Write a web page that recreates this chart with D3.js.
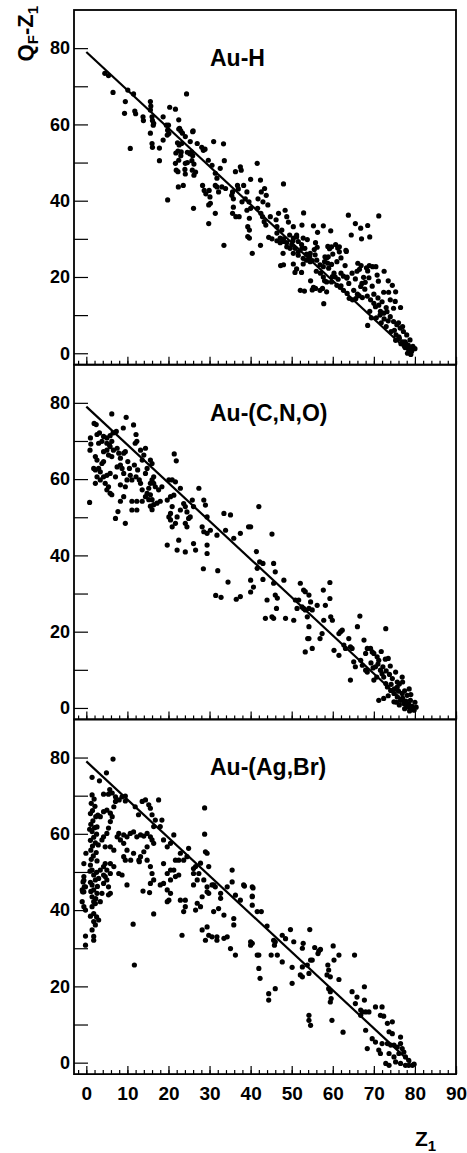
<!DOCTYPE html>
<html>
<head>
<meta charset="utf-8">
<script src="https://cdn.jsdelivr.net/npm/d3@7"></script>
<style>
	body { margin: 0; background: #fff; }
	text { font-family: "Liberation Sans", Arial, Helvetica, sans-serif; font-weight: bold; fill: #000; }
	.axis path.domain { display: none; }
	.axis line { stroke: #000; stroke-width: 1.2; }
	.frame { fill: none; stroke: #000; stroke-width: 1.8; }
	.fit-line { fill: none; stroke: #000; stroke-width: 2.2; }
	.dot { fill: #000; }
</style>
</head>
<body>
<div id="graphic"></div>
<script>
// Globals
var PANEL_TITLES = ['Au-H', 'Au-(C,N,O)', 'Au-(Ag,Br)'];

var Y_TICKS = [0, 10, 20, 30, 40, 50, 60, 70, 80];
var Y_LABELS = [0, 20, 40, 60, 80];
var X_TICKS = [0, 10, 20, 30, 40, 50, 60, 70, 80, 90];
var X_MINOR = [-2, 0, 2, 4, 6, 8, 10, 12, 14, 16, 18, 20, 22, 24, 26, 28, 30, 32, 34, 36, 38, 40, 42, 44,
	46, 48, 50, 52, 54, 56, 58, 60, 62, 64, 66, 68, 70, 72, 74, 76, 78, 80, 82, 84, 86, 88, 90];

// Q_F - Z_1 = 79 - Z_1 reference line
var FIT_LINE = [[0, 79], [79, 0]];

// [Z1, QF-Z1]
var AU_H = [
	[4.5,73.4],[5.4,72.8],[6.5,68.4],[10.1,69],[11.5,68],[9.5,66],[9.3,62.9],[11.8,63.5],[12,62.8],[10.7,53.7],[13.8,62],[13.9,61],
	[15.6,66],[15.7,64.8],[15.6,63.8],[16,62],[16.1,61],[16.3,59.8],[15.6,57.7],[16,55],[16.1,54],[17.8,53.8],[17.8,50.5],
	[18.7,62],[20,59.8],[19.8,58.5],[20.3,64.5],[21.7,64],[24.4,68],[18.7,55.9],[22.5,61.2],[22.7,59],[23,58.3],[23.4,57.7],
	[22.2,55.2],[22.6,54.6],[23.2,55],[24.1,56.8],[26,58.3],[23.1,52.8],[22.5,50.6],[24.1,49.8],[21.9,48],[24.1,47],
	[19.5,59.8],[20.1,57.6],[16.4,60.3],[19.7,57.2],[22.5,58.8],[22.3,53],[21.8,52.5],[23,51.8],[25.3,55.5],[25.9,58.1],
	[24.6,52.7],[25.2,52.3],[25.6,52.8],[25.9,51.8],[25.7,50.5],[26.2,49.6],[25.8,48],[26.6,47.5],[26.2,46.7],
	[27,55],[28.1,54],[28.5,53.2],[28.9,53.5],[21.7,49.8],[22.3,47.6],[24,48.2],[24.6,50],[22.4,43.6],[23.6,44],[19.8,40.2],[26.1,38],
	[28.3,44],[28.7,42.7],[29.1,41.8],[29.9,42.7],[30.1,41],[30.2,39.3],[29.8,38.9],[31,55.5],[33.4,54.9],[29.7,50.6],[30.6,49.3],
	[31.4,47.2],[31.8,45.9],[32.6,48.5],[33.6,50.5],[29.8,34],[31.4,36.7],[31.4,44],[31.8,43.6],[32.2,42.3],[33,43.6],[33.9,43.2],
	[36.3,47.6],[37.5,48.9],[37.7,48],[35.6,42.3],[35.4,41.4],[35.8,40.5],[36.8,44],[37,43.1],[38.3,44],[37.9,39.7],[39.1,42.3],
	[40,45.6],[38.7,40.5],[39.6,39.7],[40,38],[39.1,37.5],[35.8,38.3],[35.6,36.7],[36.4,35.8],[37.2,35.8],[41.6,49.8],[39.7,35.4],
	[39.3,33.2],[39.7,32.3],[39.3,30.6],[39.7,30.2],[33.5,28.3],[40.4,26.2],[42.4,28.3],[42.4,45.4],[43.4,43.2],[42.6,42.3],
	[43.8,41.4],[41.8,40.5],[43,39.7],[44.2,38.9],[41.7,38],[42.5,36.7],[42.9,35.8],[43.3,34.5],[43.7,33.6],[44.8,35.8],[46.2,35],
	[46.8,36.7],[46.4,33.2],[47.6,32.3],[48.4,37.5],[48.8,35.8],[48,44.4],[44.4,30.4],[45.2,30],[46.4,29.5],[47.2,29],[46.4,31.5],
	[47.2,30.2],[48,29.3],[48.8,27.9],[49.6,27.5],[50,28.4],[50.4,30.2],[51.2,31],[51.6,29.3],[52.8,30.2],[50.8,27.5],[51.6,26.6],
	[52.5,27.5],[51.6,25.7],[52.8,24.9],[53.6,24.4],[54.5,24],[49.2,34.4],[50.4,33.2],[52.5,33.6],[52.9,36.8],[47.9,26.2],[50.4,26.2],
	[48,23.2],[50.4,23.4],[51.2,22.1],[52.4,21.2],[50.8,21.2],[52.8,23.4],[53.8,29.8],[55.3,33.4],[56.3,31.7],[57.7,33.4],[59.5,32.1],
	[54.5,26.2],[55.7,25.8],[56.1,24.4],[56.9,23.2],[57.7,22.7],[58.1,25.3],[58.9,25.3],[59.7,27.9],[61.6,27.9],[61.6,26.6],[63.2,27],
	[57.7,20],[58.5,18.7],[59.7,18.7],[60.6,20],[61,17.8],[61.8,17.3],[62.6,20.2],[63.4,19.7],[55.3,17.3],[56.9,16.5],[58.5,16.1],[53.1,16.3],
	[48,30],[48.8,29],[49.5,31],[50.3,29.5],[51.2,30.5],[52.4,28.5],[53.2,27.5],[53.6,26],[54.4,25.3],[55,24.3],[47.3,23],[52.1,16.5],
	[54.6,19],[55,16.6],[55.8,17],[57.5,17],[57.8,13],[55.8,29],[56.2,27.8],[55.5,27.2],[58.8,28],[59.2,27.4],[60.7,28.5],[61.2,27.6],
	[63.3,26.7],[58.5,25],[58.8,23.6],[58,24],[59.7,23.3],[59,22.3],[60.3,21],[59.9,20.1],[61.3,19.4],[62,17.7],[62.6,16.5],
	[63.5,15.7],[64,14.4],[64.8,14],[65.6,14.3],[66.4,15.1],[66.1,23.6],[66.9,23],[66.5,22],[68.2,22.4],[68.5,21.6],[68.9,23],
	[69.7,22.7],[70.5,22.7],[64.7,21],[65.9,21.5],[65.5,19.5],[67.5,19.9],[67.9,18.6],[67.1,18.3],[68.8,19.8],[69.6,17.6],[71.1,18.9],
	[63.9,18.3],[65.1,16.5],[66,15.5],[67.2,14.6],[68.4,15],[69.2,14],[70,13.1],[70.4,12.2],[71.2,12.6],[71.6,11],[72.4,10.5],
	[73.2,10.9],[74,9.6],[74.8,8.3],[75.6,7.5],[76.4,6.6],[77.2,5.7],[78,4.8],[77.6,3],[78.4,2.1],[78.8,1.2],[77.6,1.5],[78.8,3.5],
	[69,11],[69.4,9.3],[70.6,9.3],[71.8,8],[73,7],[74.2,5.7],[75.4,4.8],[76.2,3.9],[77,3],[77.8,2.5],[72.4,16],[73.6,16],[74,14],
	[75.2,13.6],[74.8,11.8],[75.3,16.1],[70.8,20.5],[68.5,7.3],[75.3,3.4],[76.1,4.3],[76.6,2.5],[77.4,2],[77.8,1.6],[78.6,0.8],
	[78.2,0],[79.2,0.5],[79.5,1.8],[80,1.2],[79,-0.3],[73,12],[71,14.5],[72,13.5],[76,8],[77,7],[75,6],[73.5,8.5],[72.5,9],[71.5,10],
	[70,15.5],[67.8,16.8],[66.8,17.5],[62,25],[63,23],[61,24],[60,26],[57,21],[56,21.5],[58,19],[62,21],[63.5,20],
	[63.8,36.2],[65.5,34],[66.8,32.8],[68.5,33.5],[71.2,36],[69,30.5],[64.5,31],[67,30],[72.5,21.5],[73.5,19],[74.5,17.8],[76.5,12]
];

var AU_CNO = [
	[6.2,77.1],[9.7,76.2],[11.5,74.2],[1.9,74.6],[2.4,74.3],
	[1,70.8],[2.6,71.7],[3.2,72.1],[4.2,71.2],[5,70.8],[5.8,71.4],[6.5,72.1],[7.3,72.5],[9,73.4],[12.1,71.7],
	[1.1,69.2],[3,69.4],[3.8,69.9],[5,69.4],[5.6,69],[11.9,69.4],[12.3,69.9],[6.2,69.9],
	[0.9,67.6],[4.2,67.2],[5,67.6],[5.8,68.5],[6.6,67.6],[7.5,68.1],[5.4,66.3],[6.2,65.9],[7.9,66.8],[9.1,66.8],[9.5,67.2],
	[13.2,67.6],[14.4,68.1],[14,66.3],[2.2,65.9],
	[2.6,65],[1.8,62.8],[2.2,62.4],[3,62.8],[3.8,64.1],[4.2,64.6],[8.3,65.5],[8.3,63.7],[8.7,62.8],[7.5,63.2],[10.1,64.6],
	[10.5,62.8],[11.7,63.7],[12.5,62.4],[13.6,65],[15.6,65],[16,64.1],[14.8,62.8],
	[2.6,60.6],[3.4,61.9],[4.2,60.6],[5,61],[9.1,61.5],[10.7,61],[11.1,59.8],[9.9,59.8],[12.1,60.6],[12.9,59.8],[14.4,61.5],
	[16,59.8],[16.4,60.6],[18.4,58],[16.4,58.9],[5.8,61.5],[7.1,60.6],
	[2.2,58.9],[3.4,59.8],[4.6,58.9],[5.4,58],[5,57.2],[5.8,56.3],[6.2,55.9],[8.3,58.5],[9.5,58],[13.2,58.9],[13.6,57.2],
	[14.4,55.4],[14.8,56.3],[15.2,57.6],[15.6,58.9],[16.8,58],[17.6,57.2],
	[15.6,55.9],[16,54.6],[16.4,53.3],[15.2,54.6],[15.6,52.9],[16,52],[17.2,53.7],[18,54.2],[8.3,54.2],[9.1,55.4],[11.1,54.2],
	[12.3,54.2],[13.6,54.2],[0.8,53.9],[7.1,49.7],[7.7,51.5],[9.5,48.4],[11.1,51.9],[12.3,51.9],
	[21.4,66.6],[21.9,64.8],[20.1,59.8],[20.9,59.8],[21.7,59.3],[22.9,57.6],[19.7,54.5],[20.5,55.4],[21.3,55.8],[20.9,52.8],
	[20.5,51],[20.1,50.1],[20.5,49.3],[20.9,47.5],[21.7,48.4],[22.1,50.1],[22.9,51.9],[23.7,53.6],[24.1,52.8],[24.5,51.4],
	[24.9,49.7],[24.1,48.4],[24.5,47.5],[25.3,50.1],[25.8,54.5],[26.1,52.8],[27.4,57.6],[28.6,54.5],[29,53.2],[29.4,50.1],
	[28.2,47.5],[28.6,46.2],[29.4,45.8],[30.2,46.6],[31.8,45.3],[33.5,51],[35.1,50.6],[33.9,46.6],[35.9,44.5],[37.5,45.8],
	[39.5,47.5],[42,52.8],[19.7,42.7],[22.1,41.4],[22.5,44],[24.1,40.9],[26.1,43.1],[26.6,41.4],[29.4,42.7],[29.4,40.5],
	[31.5,29.5],[32.8,29],[36.5,28.5],[37.5,29.2],[28.5,36.5],[32,36],[34.5,33],
	[40,47.5],[45.2,45.6],[41.4,41],[42.2,38.3],[43,37.9],[41.6,36.6],[40,33.5],[40.7,31.7],[40,30.4],[43,33.7],[45.6,37.9],
	[46,35.7],[45.6,32.7],[46,29.6],[46.5,28.8],[46.3,26.1],[44,28.3],[43.6,23.5],[45.2,23.9],[45.6,23.5],[48.1,33.5],[48.5,23.5],[50.5,23],
	[52.1,32.7],[52.9,30.9],[53.3,30.5],[54.2,29.6],[51.7,28.3],[50.9,28.3],[51.3,26.1],[52.5,26.5],[52.9,26.1],[53.3,25.7],
	[54.2,26.1],[54.6,27.8],[55,25.7],[56.2,26.9],[53.8,23.9],[54.2,21.3],
	[59.3,32.9],[57.7,30.9],[58.2,26.9],[59.3,28.7],[59.5,23.9],[57.8,23],[59.9,23],
	[54.2,18.2],[55,15.6],[53.3,14.7],[53.9,18.2],[56.9,18.2],[57.4,19.5],
	[60.3,15.1],[61.5,13.8],[61.5,19.5],[62.3,20.4],[61.9,20],[62.7,16.5],[63.1,15.6],[64.3,16],[63.9,18.2],[64.7,15.6],
	[65.1,12.1],[65.5,10.8],[64.3,7.3],[66.8,12.5],[67.2,11.2],[68,9.9],[68.4,9.4],[69.2,15.6],[69.6,14.7],[70,14.3],[70.8,13.4],
	[71.2,12.5],[70.4,10.8],[70.7,8.1],[70,7.3],[71.6,9.9],[72,9],[72.4,8.1],[72.9,6.4],[73.3,5.5],[74.1,4.6],[74.9,3.8],
	[75.7,2.9],[76.5,2],[77.3,1.2],[78.1,0.3],[78.9,-0.2],[79.8,-0.6],[78.9,2],[78.1,3.3],[76.9,3.8],[75.7,5.5],[74.5,7.7],
	[76.9,8.1],[75.3,9.4],[75.7,6.8],[74.9,1.6],[71.2,2],[72.4,2.5],[72.9,20.8],[66,21.3],[66.6,24.1],[67.6,17.8],[68.4,15.6],[68,14.3],
	[71,11.5],[72.2,10.8],[73,9.7],[73.8,8.8],[74.2,6.2],[75,5],[76,4.4],[77,2.6],[77.8,1.8],[78.5,1],[79.3,0.4],[79.5,-0.3],
	[77.5,-0.2],[76.2,0.8],[75.5,1.5],[73.5,3.2],[74,11],[72.8,12.8],[71.8,14.8],[73.5,13],[69.3,11.8],[69.8,10.5],[76.2,6.3],
	[77.5,4.5],[78.6,5],[77,6.8],[79,3.5],[80,1.5],[80.3,0.2],[78.7,-0.8]
];

var AU_AGBR = [
	[6.5,79.6],[4.9,76],[1.4,74.8],[3.2,73.9],
	[1.4,70.2],[1.9,69.1],[1.2,68],[2.1,67.2],[1.5,66.1],[1,65.3],[2.3,64.5],[1.6,63.4],[1.1,62.5],[2,61.6],[1.4,60.6],
	[2.5,59.9],[1.8,59.1],[1,58.3],[2.2,57.6],[1.5,56.8],[1.1,55.7],[2.4,55.1],[1.7,54.2],[1.2,53.3],[2.6,52.9],
	[1,51.8],[1.4,50.5],[1.8,49.2],[2.2,47.9],[1.4,46.6],[1.8,45.3],[2.6,44.4],[1.4,43.5],[1.8,42.2],[2.2,41.7],[1.4,40.9],
	[1.8,39.1],[1.8,37],[2.2,36.1],[1.4,34.8],[1.8,33.1],[1.8,32.1],
	[0.9,50.2],[2.5,49.9],[1,47.3],[2.7,46.2],[1.1,44.9],[2.3,43],[1,38.4],[2.5,38.2],[2.6,61.8],[2.8,64.9],[0.8,61.2],[2.9,57.1],
	[-0.1,54.9],[-0.6,47.8],[-0.5,46.1],[-0.9,44.8],[-0.6,52.2],[-0.6,48.8],[-0.8,47.4],[-0.2,46.1],[-1,45.3],[-0.6,44.8],
	[-1,42.2],[-0.6,40.9],[-0.2,40],[-0.2,33.2],[-0.2,30.8],
	[3.4,64.5],[4.2,65.8],[5,66.2],[5.85,65.4],[6.3,64.5],[6.7,67.1],[7.1,68.5],[5.85,63.2],[5.4,61.5],[5,60.1],[4.2,59.2],
	[3.8,58.4],[4.6,56.6],[5.85,56.6],[6.7,55.7],[7.5,59.2],[7.9,60.1],[8.3,58.4],[9.1,59.7],[9.9,59.2],[10.7,60.1],[11.5,60.5],
	[12.3,59.2],[13.2,59.7],[14,59.4],[14.8,60.1],[15.6,59.2],[16,58.4],[16.4,57.5],[14.8,56.6],[14,55.3],[13.2,54],[12.8,53.1],
	[11.5,54.9],[9.9,55.7],[9.1,57.5],[9.1,54],[9.5,53.1],
	[11.9,67.1],[12.7,65],[13.6,68.5],[14.4,68.9],[15.2,67.6],[15.6,66.7],[16,65],[16.8,63.6],[17.6,68.9],[18,61.9],[16.4,61.9],
	[4.2,70.4],[5.7,71.6],[5.4,70.4],[6.3,70.7],[7.1,69.7],[8,68.9],[8.7,69.7],[9.5,69.9],[9.5,68.6],
	[3,37.4],[3.4,42.2],[3.8,44.4],[4.2,47],[4.6,48.8],[3,48.3],
	[3.4,50.5],[4.2,51.4],[5,50.5],[5.85,49.6],[5,47.9],[5.4,46.1],[5.85,44.4],[5.4,44],[4.2,49.2],[4.6,52.2],[5.85,52.2],
	[6.7,51.4],[7.9,49.6],[8.7,49.2],[9.9,46.6],
	[11.4,36.3],[11.7,25.6],[13.8,45],[15.4,44.6],[16.4,39],
	[10.8,53.1],[12.9,52.7],[14.8,53.1],[15.6,51.4],[16,49.6],[16.4,47.9],[15.6,47],
	[18.8,52.2],[19.7,49.6],[20.5,50.5],[21.7,48.8],[20.5,47.9],[19.7,45.3],[20.5,44.4],[20.1,42.6],[19.7,42.2],[18.8,47],
	[18,46.6],[21.3,50.5],[22.5,49.2],
	[18.4,63.6],[18.8,58.4],[19.7,56.6],[20.5,57.5],[21.3,59.7],[21.7,53.1],[22.5,53.1],[22.9,54.9],[23.7,53.1],[24.5,54],
	[24.9,56.2],[26.1,50.9],[27.4,49.6],[27.8,52.3],[28.8,59.9],[29,55.3],[29.4,54.9],[29.8,51.4],[28.6,47.9],[29.4,46.1],
	[29.8,44.4],[31,46.6],[32.7,44.4],[34.3,46.1],[35.5,50.5],[35.5,47.4],[38.3,46.6],[40.4,46.1],[40.4,43.5],[28.8,66.8],
	[22.9,42.6],[24.1,42.6],[24.1,40.9],[23.7,39.6],[23.3,33.4],[26.6,40],[27,41.8],[27.8,40.9],[28.2,43.5],[29.4,44.8],
	[30.6,46.6],[31.4,46.1],[31,39.6],[32.2,40.4],[32.7,43.1],[33.5,38.7],[36.3,43.9],[37.5,42.6],[40.4,41.3],[41.6,39.6],
	[26.1,49.6],[26.6,51.4],[27,47.9],[26.1,46.6],
	[28.2,34.8],[29.4,35.6],[29.8,33.4],[29,32.1],[30.6,33],[31.8,33],[31.8,32.1],[33.5,32.6],[34.3,33],[35.1,29.9],[36.3,28.2],
	[35.9,37.8],[35.9,36.1],[40,31.7],[40.4,31.3],[41.6,28.2],[42,24.7],[42.3,22.1],
	[38.5,46.3],[40.6,45.8],[40.4,43.7],[42.6,39.6],[44,35.8],[40,30.8],[42,28.2],[45,28.2],[46.5,28.2],[45.6,32.1],[46,31.7],
	[45.8,30.8],[47.7,33.4],[48.5,32.5],[49.7,34.9],[50.5,31.7],[47.7,26.4],[46,19.4],[44.4,18.1],[44.4,16.4],[50.1,25],
	[50.1,20.8],[52.1,23],[52.6,22.5],[52.6,30],[52.8,31.3],[54.4,34.9],[52.6,25.1],[53.8,25.6],[54.6,26.9],[55,26.9],[54.2,23.4],
	[55.6,30.2],[56.6,29.3],[57,29.7],[56.4,28.6],[54.2,12.4],[54.2,11.1],[54.6,9.8],[58.8,25.6],[59,24.3],[58.6,23],[59.4,22.5],
	[60.1,30.6],[60.3,26.9],[61.5,28.2],[59,19.4],[59.4,18.6],[59.6,16.8],[59.4,15.9],[59.8,11.1],[61.5,21.8],[62.5,8],
	[65.3,28.2],[64.7,18.6],[65.9,17.2],[65.5,15.5],[66.8,13.8],[66.8,12.4],[67.2,13.3],[68,13.3],[67.7,19.9],[67.7,16.4],
	[68.8,13.3],[68,8.5],[68.4,3.7],[69.6,6.3],[70.4,5.4],[70.4,14.6],[72,14.6],[72.4,12.2],
	[71.6,12.4],[73.3,10.3],[74.5,10.7],[73.7,8.1],[74.5,7.6],[76.5,6.7],
	[72,5],[73.3,5],[74.1,4.6],[74.9,4.6],[75.7,4.1],[76.5,5],[76.9,3.7],[77.3,2.8],[76.1,2.4],[77.7,1.5],[78.5,0.6],
	[71.2,3.3],[71.6,2.4],[73.7,2.4],[74.9,1.5],[72.9,-0.2],[73.7,-0.7],[75.3,0.2],[76.5,-0.2],[77.7,-0.7],[78.5,-0.7],
	[79.4,-0.7],[79.8,-0.4]
];

var PANEL_DATA = [AU_H, AU_CNO, AU_AGBR];

/*
 * Render the graphic.
 */
function renderGraphic() {
	var width = 467;
	var height = 1153;

	var margins = {
		top: 10,
		left: 74,
		right: 11
	};

	var panelHeight = 354.7;
	var chartWidth = width - margins['left'] - margins['right'];

	var svg = d3.select('#graphic').append('svg')
		.attr('width', width)
		.attr('height', height);

	var xScale = d3.scaleLinear()
		.domain([-3, 90])
		.range([margins['left'], margins['left'] + chartWidth]);

	PANEL_DATA.forEach(function(data, i) {
		var top = margins['top'] + i * panelHeight;
		var isLast = (i == PANEL_DATA.length - 1);

		var yScale = d3.scaleLinear()
			.domain([-3, 90])
			.range([top + panelHeight, top]);

		var panel = svg.append('g')
			.attr('class', 'panel');

		// y axis, ticks pointing inwards
		panel.append('g')
			.attr('class', 'y axis')
			.attr('transform', 'translate(' + margins['left'] + ',0)')
			.style('font-size', '18px')
			.call(d3.axisLeft(yScale)
				.tickValues(Y_TICKS)
				.tickSize(-14)
				.tickPadding(4)
				.tickFormat(function(d) {
					return Y_LABELS.indexOf(d) >= 0 ? d : '';
				}))
			.selectAll('text')
			.attr('font-family', null)
			.attr('font-size', null);

		// x axis: minor then major ticks
		panel.append('g')
			.attr('class', 'x axis minor')
			.attr('transform', 'translate(0,' + (top + panelHeight) + ')')
			.call(d3.axisBottom(xScale)
				.tickValues(X_MINOR)
				.tickSize(-4)
				.tickFormat(''));

		var xAxisElement = panel.append('g')
			.attr('class', 'x axis')
			.attr('transform', 'translate(0,' + (top + panelHeight) + ')')
			.style('font-size', '19px')
			.call(d3.axisBottom(xScale)
				.tickValues(X_TICKS)
				.tickSize(-8)
				.tickPadding(12)
				.tickFormat(function(d) {
					return isLast ? d : '';
				}));

		xAxisElement.selectAll('text')
			.attr('font-family', null)
			.attr('font-size', null);

		// frame
		panel.append('rect')
			.attr('class', 'frame')
			.attr('x', margins['left'])
			.attr('y', top)
			.attr('width', chartWidth)
			.attr('height', panelHeight);

		var line = d3.line()
			.x(function(d) { return xScale(d[0]); })
			.y(function(d) { return yScale(d[1]); });

		panel.append('path')
			.datum(FIT_LINE)
			.attr('class', 'fit-line')
			.attr('d', line);

		panel.append('g')
			.attr('class', 'dots')
			.selectAll('circle')
			.data(data)
			.enter()
			.append('circle')
				.attr('class', 'dot')
				.attr('r', 2.6)
				.attr('cx', function(d) { return xScale(d[0]); })
				.attr('cy', function(d) { return yScale(d[1]); });

		panel.append('text')
			.attr('x', 210)
			.attr('y', top + 56)
			.style('font-size', '23px')
			.text(PANEL_TITLES[i]);
	});

	// axis titles
	var yTitle = svg.append('text')
		.attr('transform', 'translate(33,6) rotate(-90)')
		.attr('text-anchor', 'end')
		.style('font-size', '22px');

	yTitle.append('tspan').text('Q');
	yTitle.append('tspan').attr('dy', 5).style('font-size', '15px').text('F');
	yTitle.append('tspan').attr('dy', -5).text('-Z');
	yTitle.append('tspan').attr('dy', 5).style('font-size', '15px').text('1');

	var xTitle = svg.append('text')
		.attr('x', 415)
		.attr('y', 1146)
		.style('font-size', '21px');

	xTitle.append('tspan').text('Z');
	xTitle.append('tspan').attr('dy', 5).style('font-size', '15px').text('1');
}

document.addEventListener('DOMContentLoaded', function() {
	renderGraphic();
});
</script>
</body>
</html>
